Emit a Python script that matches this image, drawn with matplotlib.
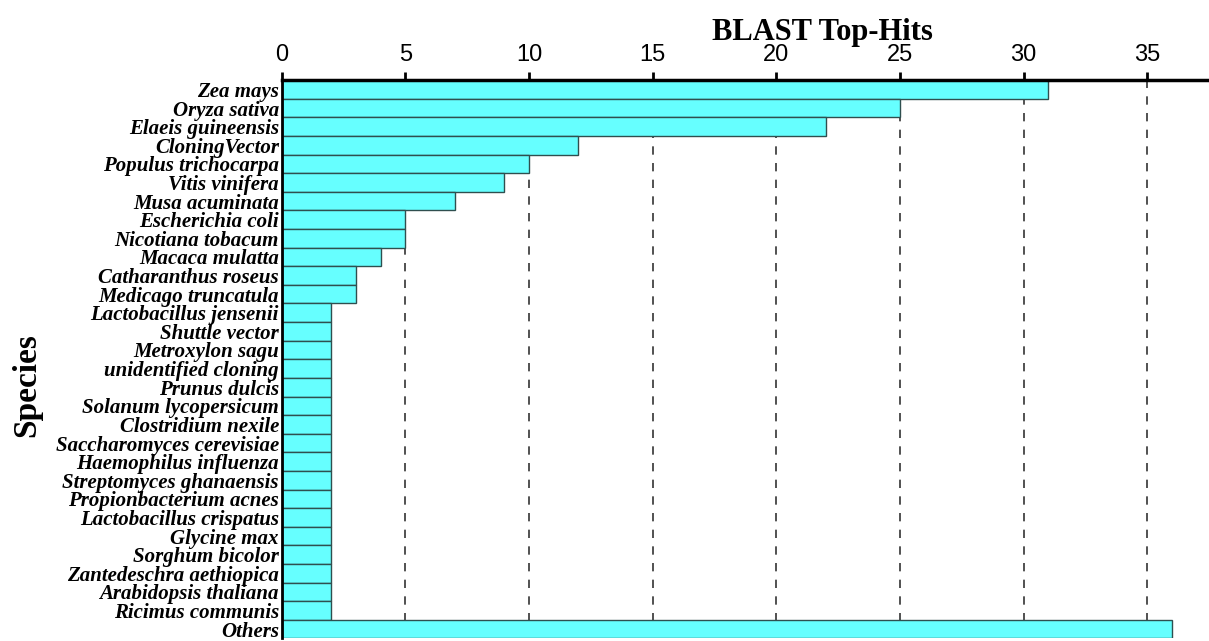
import matplotlib.pyplot as plt

# BLAST top-hit counts per species
species = ['Zea mays', 'Oryza sativa', 'Elaeis guineensis', 'CloningVector',
           'Populus trichocarpa', 'Vitis vinifera', 'Musa acuminata',
           'Escherichia coli', 'Nicotiana tobacum', 'Macaca mulatta',
           'Catharanthus roseus', 'Medicago truncatula', 'Lactobacillus jensenii',
           'Shuttle vector', 'Metroxylon sagu', 'unidentified cloning',
           'Prunus dulcis', 'Solanum lycopersicum', 'Clostridium nexile',
           'Saccharomyces cerevisiae', 'Haemophilus influenza',
           'Streptomyces ghanaensis', 'Propionbacterium acnes',
           'Lactobacillus crispatus', 'Glycine max', 'Sorghum bicolor',
           'Zantedeschra aethiopica', 'Arabidopsis thaliana', 'Ricimus communis',
           'Others']
hits = [31, 25, 22, 12, 10, 9, 7, 5, 5, 4, 3, 3, 2, 2, 2, 2, 2, 2, 2, 2,
        2, 2, 2, 2, 2, 2, 2, 2, 2, 36]
xticks = [0, 5, 10, 15, 20, 25, 30, 35]

fig = plt.figure(figsize=(12.09, 6.41), dpi=100)
ax = fig.add_axes([0.233, 0.004, 0.767, 0.871])

pos = range(len(species))
ax.barh(pos, hits, height=1.0, color='#66ffff', edgecolor='#2f4f4f', linewidth=1.0, zorder=2)

ax.set_xlim(0, 37.5)
ax.set_ylim(len(species) - 0.5, -0.5)

ax.xaxis.tick_top()
ax.set_xticks(xticks)
ax.set_xticklabels([str(t) for t in xticks], fontsize=17, family='Liberation Sans')
ax.tick_params(axis='x', direction='out', length=6, width=2, pad=4)

ax.set_yticks(list(pos))
ax.set_yticklabels(species, fontsize=15, family='Liberation Serif',
                   fontweight='bold', style='italic')
ax.tick_params(axis='y', length=0, pad=2)

for x in xticks[1:]:
    ax.axvline(x, color='#333333', linestyle=(0, (5, 5)), linewidth=1.2, zorder=1)

ax.spines['top'].set_linewidth(2.5)
ax.spines['left'].set_linewidth(2)
ax.spines['right'].set_visible(False)
ax.spines['bottom'].set_visible(False)

fig.text(0.68, 0.95, 'BLAST Top-Hits', ha='center', va='center', fontsize=22,
         family='Liberation Serif', fontweight='bold')
fig.text(0.022, 0.40, 'Species', ha='center', va='center', rotation=90, fontsize=24,
         family='Liberation Serif', fontweight='bold')

fig.savefig('out.png', dpi=100)
